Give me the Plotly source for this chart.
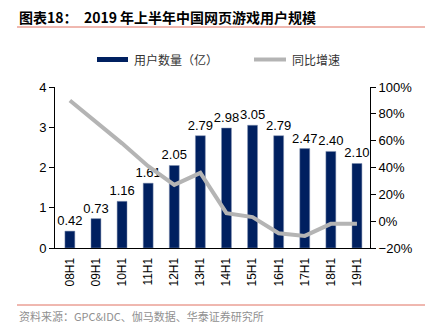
import plotly.graph_objects as go

categories = ["08H1", "09H1", "10H1", "11H1", "12H1", "13H1", "14H1", "15H1", "16H1", "17H1", "18H1", "19H1"]
users = [0.42, 0.73, 1.16, 1.61, 2.05, 2.79, 2.98, 3.05, 2.79, 2.47, 2.40, 2.10]
growth = [90, 74, 58, 41, 27, 36, 6, 3, -9, -11, -2, -2]
user_labels = ["0.42", "0.73", "1.16", "1.61", "2.05", "2.79", "2.98", "3.05", "2.79", "2.47", "2.40", "2.10"]

W, H = 430, 325
L, R, T, B = 55, 370, 87, 248

def px(x):
    return (x - L) / (R - L)

def py(y):
    return (B - y) / (B - T)

fig = go.Figure()
fig.add_trace(go.Bar(
    x=categories, y=users, name="用户数量（亿）",
    marker=dict(color="#002060", line=dict(color="#8090b0", width=0.5)),
    width=0.38,
    text=user_labels, textposition="outside", cliponaxis=False, constraintext="none",
    textfont=dict(family="Liberation Sans, Arial", size=13, color="#000000"),
    showlegend=False,
))
fig.add_trace(go.Scatter(
    x=categories, y=growth, name="同比增速", yaxis="y2", mode="lines",
    line=dict(color="#b4b4b4", width=4), showlegend=False,
))

tick_font = dict(family="Liberation Sans, Arial", size=13, color="#000000")
fig.update_layout(
    width=W, height=H,
    margin=dict(l=L, r=W - R, t=T, b=H - B),
    paper_bgcolor="white", plot_bgcolor="white",
    bargap=0.62,
    xaxis=dict(
        type="category", range=[-0.57, 11.5], tickangle=-90,
        showline=True, linecolor="#000000", linewidth=1,
        ticks="outside", ticklen=4, tickcolor="rgba(0,0,0,0)", showgrid=False,
        tickfont=dict(family="Liberation Sans, Arial", size=12, color="#000000"),
    ),
    yaxis=dict(
        range=[0, 4], dtick=1, showline=True, linecolor="#000000", linewidth=1,
        ticks="outside", ticklen=5, tickcolor="#000000", showgrid=False, zeroline=False,
        tickfont=tick_font,
    ),
    yaxis2=dict(
        range=[-20, 100], dtick=20, ticksuffix="%", overlaying="y", side="right",
        showline=True, linecolor="#000000", linewidth=1,
        ticks="outside", ticklen=5, tickcolor="#000000", showgrid=False, zeroline=False,
        tickfont=tick_font,
    ),
    shapes=[
        dict(type="line", xref="paper", yref="paper", x0=px(17), x1=px(425), y0=py(27), y1=py(27),
             line=dict(color="#e07060", width=1)),
        dict(type="line", xref="paper", yref="paper", x0=px(17), x1=px(425), y0=py(305), y1=py(305),
             line=dict(color="#e07060", width=1)),
        dict(type="rect", xref="paper", yref="paper", x0=px(97), x1=px(128), y0=py(62), y1=py(57),
             fillcolor="#002060", line=dict(width=0)),
        dict(type="line", xref="paper", yref="paper", x0=px(254), x1=px(286), y0=py(59.5), y1=py(59.5),
             line=dict(color="#b4b4b4", width=4)),
    ],
    annotations=[
        dict(text="<b>图表18：  2019 年上半年中国网页游戏用户规模</b>", xref="paper", yref="paper",
             x=px(17), y=py(17), xanchor="left", yanchor="middle", showarrow=False,
             font=dict(family="Noto Sans CJK SC", size=14, color="#000000")),
        dict(text="用户数量（亿）", xref="paper", yref="paper",
             x=px(132), y=py(59.5), xanchor="left", yanchor="middle", showarrow=False,
             font=dict(family="Noto Sans CJK SC", size=12, color="#333333")),
        dict(text="同比增速", xref="paper", yref="paper",
             x=px(290), y=py(59.5), xanchor="left", yanchor="middle", showarrow=False,
             font=dict(family="Noto Sans CJK SC", size=12, color="#333333")),
        dict(text="资料来源：GPC&IDC、伽马数据、华泰证券研究所", xref="paper", yref="paper",
             x=px(17), y=py(316), xanchor="left", yanchor="middle", showarrow=False,
             font=dict(family="Noto Sans CJK SC", size=11, color="#909090")),
    ],
)

fig.write_html("out.html")
